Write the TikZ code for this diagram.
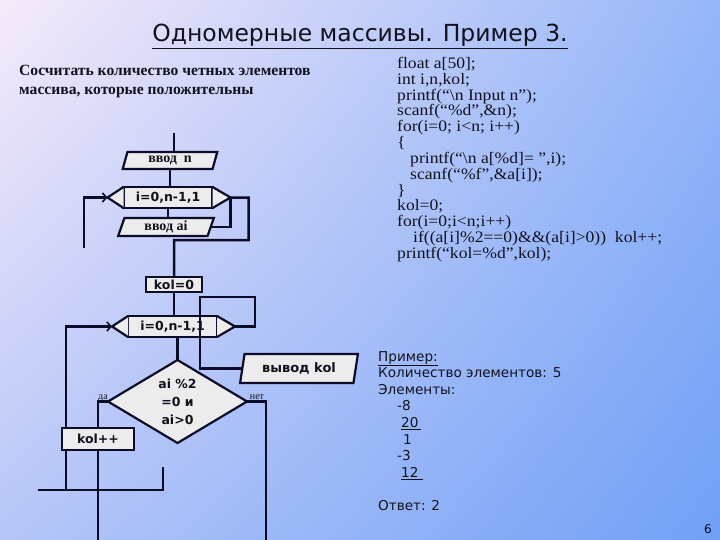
\documentclass[tikz,border=0pt]{standalone}
\usepackage{fontspec}
\setmainfont{Liberation Serif}
\newfontfamily\dejavu{DejaVu Sans}
\newfontfamily\codeserif[FakeStretch=1.1]{Liberation Serif}
\usetikzlibrary{arrows.meta,positioning,calc,shapes.geometric,shadings}
\definecolor{bgtl}{RGB}{246,234,250}
\definecolor{bgtr}{RGB}{150,182,248}
\definecolor{bgbl}{RGB}{182,198,248}
\definecolor{bgbr}{RGB}{112,160,246}
\definecolor{lineblue}{RGB}{12,12,40}
\definecolor{boxgray}{RGB}{236,236,236}
\definecolor{inkdark}{RGB}{18,18,30}
\newcommand\flowsans{\dejavu\bfseries\fontsize{12.5}{14}\selectfont}
\newcommand\flowserif{\bfseries\fontsize{14}{16}\selectfont}
\newcommand\codefont{\codeserif\fontsize{16}{15.83}\selectfont\lineskiplimit=-50pt\relax}

\begin{document}
\begin{tikzpicture}[x=1pt, y=-1pt,
  ln/.style={draw=lineblue, line width=2.5pt},
  arr/.style={ln, -{Straight Barb[length=4pt, width=9pt, line width=1.6pt]}},
  iobox/.style={trapezium, trapezium left angle=75, trapezium right angle=105,
    trapezium stretches, draw=lineblue, fill=boxgray, line width=2.2pt,
    inner sep=0pt, outer sep=0pt, text=inkdark},
  actbox/.style={rectangle, draw=lineblue, fill=boxgray, line width=2.2pt,
    inner sep=0pt, outer sep=0pt, text=inkdark, font=\flowsans},
  loopbox/.style={actbox, minimum width=89pt, minimum height=21pt},
  lbl/.style={font=\fontsize{10}{10}\selectfont, text=inkdark, inner sep=0pt},
]
\useasboundingbox (0,0) rectangle (720,540);
\shade[upper left=bgtl, upper right=bgtr, lower left=bgbl, lower right=bgbr]
  (0,0) rectangle (720,540);

% texts
\node[font=\dejavu\fontsize{23.5}{23.5}\selectfont, text=inkdark, anchor=base]
  (title) at (360,42) {\underline{Одномерные массивы. Пример 3.}};
\node[font=\bfseries\fontsize{15.6}{18.5}\selectfont, text=inkdark, align=left,
  anchor=north west, inner sep=0pt] (task) at (19,65)
  {Сосчитать количество четных элементов\\массива, которые положительны};
\node[font=\codefont, text=inkdark,
  align=left, anchor=north west, inner sep=0pt] (code) at (397,57)
  {float a[50];\\
   int i,n,kol;\\
   printf(“\textbackslash n Input n”);\\
   scanf(“\%d”,\&n);\\
   for(i=0; i<n; i++)\\
   \{\\
   \hspace*{13pt}printf(“\textbackslash n a[\%d]= ”,i);\\
   \hspace*{13pt}scanf(“\%f”,\&a[i]);\\
   \}\\
   kol=0;\\
   for(i=0;i<n;i++)\\
   \hspace*{16pt}if((a[i]\%2==0)\&\&(a[i]>0))\ \ kol++;\\
   printf(“kol=\%d”,kol);};
\node[font=\dejavu\fontsize{13.6}{16.6}\selectfont, text=inkdark, align=left,
  anchor=north west, inner sep=0pt] (sample) at (378,351)
  {\underline{Пример:}\\
   Количество элементов: 5\\
   Элементы:\\
   \hspace*{19pt}-8\\
   \hspace*{23pt}\underline{20\,}\\
   \hspace*{25pt}1\\
   \hspace*{19pt}-3\\
   \hspace*{23pt}\underline{12\ }\\[16.6pt]
   Ответ: 2};
\node[font=\dejavu\fontsize{12}{12}\selectfont, text=lineblue] (pageno) at (708,529) {6};

% flowchart
\node[iobox, font=\flowserif, minimum width=95pt, minimum height=17pt]
  (inN) at (170,160.5) {ввод\ \ n};
\node[loopbox, below=18pt of inN, xshift=-2pt] (l1) {i=0,n-1,1};
\node[iobox, font=\flowserif, minimum width=96pt, minimum height=18pt,
  below=10pt of l1, xshift=-2pt] (inAi) {ввод ai};
\node[actbox, minimum width=56pt, minimum height=15pt,
  below=41pt of inAi, xshift=8pt] (kol0) {kol=0};
\node[loopbox, below=24pt of kol0, xshift=-1.5pt] (l2) {i=0,n-1,1};
\node[diamond, shape aspect=1.7, draw=lineblue, fill=boxgray, line width=2.2pt,
  inner sep=0pt, outer sep=0pt, minimum width=139pt, minimum height=83pt,
  align=center, text=inkdark, font=\dejavu\bfseries\fontsize{12.5}{18}\selectfont,
  below=23pt of l2, xshift=5pt] (cond) {ai \%2\\=0 и\\ai>0};
\node[iobox, font=\dejavu\bfseries\fontsize{13}{14}\selectfont,
  trapezium left angle=75.5, trapezium right angle=104.5,
  minimum width=118pt, minimum height=29pt] (outKol) at (299,368.5) {вывод kol};

\foreach \lp in {l1,l2}{
  \coordinate (\lp-L) at ($(\lp.west)+(-16,0)$);
  \coordinate (\lp-R) at ($(\lp.east)+(18,0)$);
  \filldraw[ln, fill=boxgray, line width=2.2pt]
    (\lp.north west) -- (\lp-L) -- (\lp.south west)
    (\lp.north east) -- (\lp-R) -- (\lp.south east);
}

\coordinate (top) at (174,133);
\coordinate (b1) at (174,240);
\coordinate (back1) at (84,248);
\coordinate (e1) at (200,297);
\coordinate (back2) at (66,490);
\coordinate (j1) at (163,467);
\coordinate (j2) at (38,490);
\coordinate (d1) at (98,540);
\coordinate (n1) at (266,540);

\draw[ln] (top) -- (top |- inN.north);
\draw[ln] (inN.south) -- (inN.south |- l1.north);
\draw[ln] (l1.south) -- (l1.south |- inAi.north);
\draw[ln] (inAi.east) -| (l1-R);
\draw[ln] (l1-R) -- ++(18,0) |- (b1) -- (kol0.north);
\draw[arr] (back1) |- (l1-L);
\draw[ln] (kol0.south) -- (kol0.south |- l2.north);
\draw[ln] (cond.north |- l2.south) -- (cond.north);
\draw[ln] (l2-R) -- ++(20,0) |- (e1) |- (outKol.west);
\draw[arr] (back2) |- (l2-L);
\draw[ln] (j1) |- (j2);

\node[actbox, minimum width=72pt, minimum height=22pt] (inc) at (98,439) {kol++};
\draw[ln] (cond.west) -| (inc.north);
\draw[ln] (inc.south) -- (d1);
\draw[ln] (cond.east) -| (n1);
\node[lbl, anchor=base] (yes) at (103,399) {да};
\node[lbl, anchor=base] (no) at (257,399) {нет};
\end{tikzpicture}
\end{document}
